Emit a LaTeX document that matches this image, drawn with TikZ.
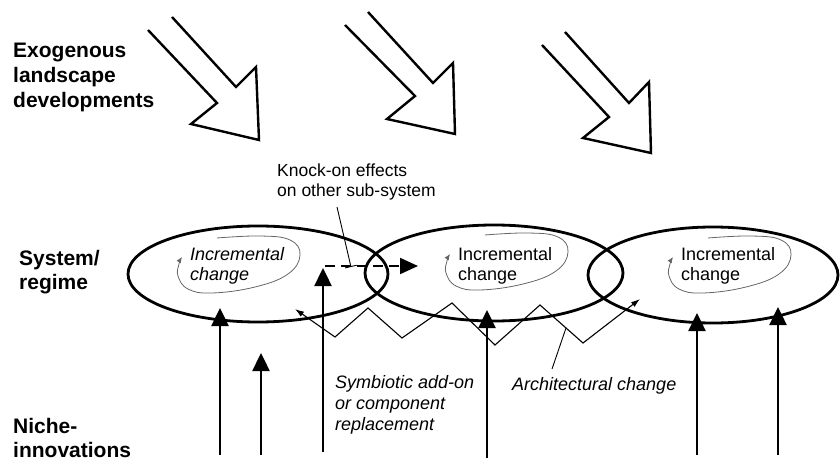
\documentclass[tikz,border=0pt]{standalone}
\usepackage{fontspec}
\setmainfont{Liberation Sans}
\usetikzlibrary{arrows.meta}

\begin{document}
\begin{tikzpicture}[x=1pt,y=-1pt,line join=miter]
\tikzset{
% Styles for the levels: landscape, regime and niches
landscape arrow/.style={draw,line width=2.4pt},
regime/.style={draw,line width=2.8pt},
niche arrow/.style={draw,line width=2.4pt,-{Triangle[length=18pt,width=17pt]}},
loop line/.style={draw,gray!80!black,line width=0.8pt,-{Latex[length=6pt,width=5pt]}},
zigzag line/.style={draw,line width=1.1pt,{Latex[length=9pt,width=6pt]}-{Latex[length=9pt,width=6pt]}},
knock line/.style={draw,line width=2pt,dash pattern=on 10pt off 6pt,-{Triangle[length=18pt,width=16pt]}},
leader/.style={draw,line width=0.9pt},
level label/.style={font=\fontsize{21}{25}\selectfont\bfseries,anchor=base west,align=left,inner sep=0},
note/.style={font=\fontsize{18}{21}\selectfont,anchor=base west,align=left,inner sep=0}
}
\useasboundingbox (0,0) rectangle (840,462);

% Level labels (base = last line)
\node(exo)[level label] at (13,108) {Exogenous\\landscape\\developments};
\node(sys)[level label,font=\fontsize{21}{24}\selectfont\bfseries] at (19,289) {System/\\regime};
\node(niche)[level label,font=\fontsize{21}{24}\selectfont\bfseries] at (13,457) {Niche-\\innovations};

% Landscape developments
\draw[landscape arrow] (148,30) -- (217,103) -- (191,124) -- (259,140) -- (256,67) -- (236,87) -- (172,17);
\draw[landscape arrow] (345,25) -- (415,96) -- (387,119) -- (455,134) -- (453,63) -- (433,83) -- (368,12);
\draw[landscape arrow] (542,45) -- (609,117) -- (583,138) -- (651,153) -- (649,82) -- (629,103) -- (565,32);

% The sub-systems
\coordinate (sys1) at (258,274);
\coordinate (sys2) at (494,273);
\coordinate (sys3) at (713,275);
\draw[regime] (sys1) ellipse [x radius=130,y radius=48];
\draw[regime] (sys2) ellipse [x radius=129,y radius=48];
\draw[regime] (sys3) ellipse [x radius=125,y radius=48];

% Incremental change inside each sub-system
\node(inc1)[note,font=\fontsize{18}{20}\selectfont\itshape] at (190,280) {Incremental\\change};
\node(inc2)[note,font=\fontsize{18}{20}\selectfont] at (458,280) {Incremental\\change};
\node(inc3)[note,font=\fontsize{18}{20}\selectfont] at (681,280) {Incremental\\change};
\foreach \dx/\dy in {0/0,268/-3,491/0}{
\draw[loop line,shift={(\dx,\dy)}] plot[smooth,tension=0.7] coordinates {(217,238) (260,236) (290,240) (300,255) (288,274) (255,287) (212,293) (188,289) (178,276) (179,264) (182,257)};
}

% Niche-innovations
\foreach \x/\ytip/\ybot [count=\i] in {220/308/455,261/353/455,323/268/452,487/310/458,697/313/455,778/307/455}{
\coordinate (n\i) at (\x,\ybot);
\coordinate (r\i) at (\x,\ytip);
\draw[niche arrow] (n\i) -- (r\i);
}

% Knock-on effects
\coordinate (k1) at (325,266);
\coordinate (k2) at (418,266);
\draw[knock line] (k1) -- (k2);
\node(knock)[note,font=\fontsize{17.5}{20}\selectfont] at (277,197) {Knock-on effects\\on other sub-system};
\coordinate (kl1) at (337,207);
\coordinate (kl2) at (351,267);
\draw[leader,-{Bar[width=12pt]}] (kl1) -- (kl2);

% Architectural change
\draw[zigzag line] (295,309) -- (335,337) -- (368,308) -- (402,338) -- (452,303) -- (495,345) -- (540,305) -- (583,343) -- (640,299);
\node(arch)[note,font=\fontsize{18}{21}\selectfont\itshape] at (512,390) {Architectural change};
\coordinate (al1) at (552,369);
\coordinate (al2) at (566,328);
\draw[leader] (al1) -- (al2);

% Symbiotic add-on
\node(sym)[note,font=\fontsize{18}{21}\selectfont\itshape] at (335,430) {Symbiotic add-on\\or component\\replacement};
\end{tikzpicture}
\end{document}
